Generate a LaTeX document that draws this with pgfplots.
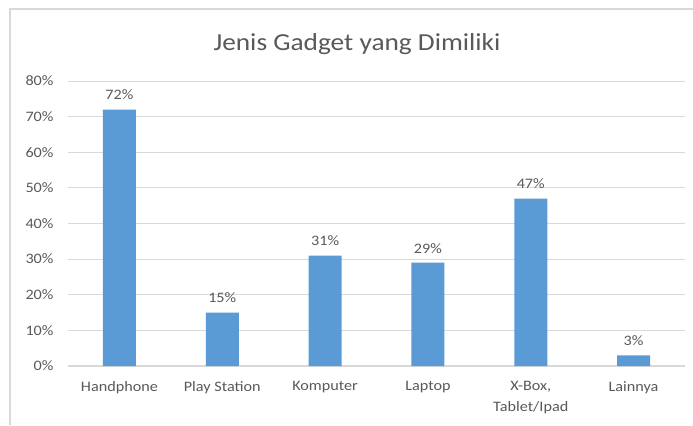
\documentclass[border=0pt]{standalone}
\usepackage{pgfplots}
\pgfplotsset{compat=1.18}
\usepackage{fontspec}
\setmainfont{Carlito}[FakeStretch=1.12]
\definecolor{barblue}{HTML}{5B9BD5}
\definecolor{txtgray}{HTML}{595959}
\definecolor{gridgray}{HTML}{D9D9D9}
\definecolor{framegray}{HTML}{D9D9D9}
\begin{document}
\begin{tikzpicture}[x=1bp,y=1bp]
\useasboundingbox (0,0) rectangle (693,425);
\fill[white] (0,0) rectangle (693,425);
\draw[framegray, line width=1.2bp] (10,0) -- (10,416) -- (693,416);
\node[txtgray, font=\fontsize{24.5}{28}\selectfont] at (357,381) {Jenis Gadget yang Dimiliki};
\begin{axis}[
  at={(68bp,59bp)}, anchor=south west,
  scale only axis, width=617bp, height=285bp,
  xmin=-0.5, xmax=5.5, ymin=0, ymax=80,
  ytick={0,10,...,80},
  yticklabel={\pgfmathprintnumber{\tick}\%},
  /pgf/number format/assume math mode=true,
  xtick={0,1,2,3,4,5},
  xticklabels={Handphone,Play Station,Komputer,Laptop,{X-Box,\\Tablet/Ipad},Lainnya},
  xticklabel style={align=center, font=\fontsize{14.5}{20.5}\selectfont, text=txtgray, anchor=north, yshift=-12bp},
  yticklabel style={font=\fontsize{14.5}{16}\selectfont, text=txtgray, xshift=-11bp},
  major tick length=0pt,
  ymajorgrids, grid style={gridgray, line width=1bp},
  axis line style={draw=none},
  ybar, bar width=33bp,
  nodes near coords={\pgfmathprintnumber{\pgfplotspointmeta}\%},
  nodes near coords style={font=\fontsize{14.5}{16}\selectfont, text=txtgray, yshift=6bp},
  clip=false,
]
\draw[gridgray, line width=1.2bp] (axis cs:-0.5,0) -- (axis cs:5.5,0);
\addplot[fill=barblue, draw=none] coordinates {(0,72) (1,15) (2,31) (3,29) (4,47) (5,3)};
\end{axis}
\end{tikzpicture}
\end{document}
